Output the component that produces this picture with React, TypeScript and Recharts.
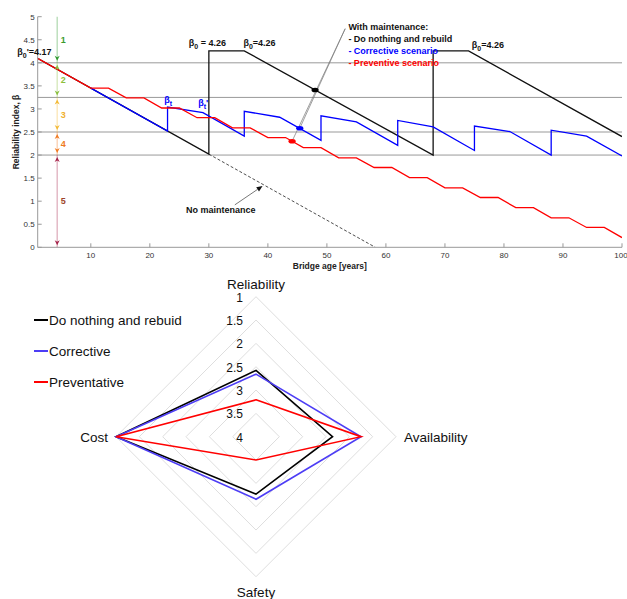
import {
  LineChart, Line, XAxis, YAxis, ReferenceLine, ReferenceDot,
  RadarChart, Radar, PolarGrid, PolarAngleAxis, PolarRadiusAxis, Legend,
} from 'recharts';

const FONT = '"Liberation Sans", Arial, Helvetica, sans-serif';

// --- reliability profiles: bridge age [years] vs reliability index β ---
const rebuildAge = [0, 30, 30, 36, 68, 68, 74, 100];
const rebuildBeta = [4.17, 2.02, 4.26, 4.26, 2.0, 4.26, 4.26, 2.4];

const noMaintAge = [30, 58.2];
const noMaintBeta = [2.02, 0];

const correctiveAge = [10, 23, 23, 29, 36, 36, 42, 49, 49, 55, 62, 62, 68, 75, 75, 81, 88, 88, 94, 100];
const correctiveBeta = [3.45, 2.52, 3.04, 2.92, 2.41, 2.95, 2.82, 2.32, 2.85, 2.72, 2.21, 2.75, 2.61, 2.1, 2.63, 2.51, 2.0, 2.54, 2.41, 1.98];

const preventiveAge = [0, 10, 13, 16, 19, 22, 25, 28, 31, 34, 37, 40, 43, 46, 49, 52, 55, 58, 61, 64, 67, 70, 73, 76, 79, 82, 85, 88, 91, 94, 97, 100];
const preventiveBeta = [4.17, 3.45, 3.45, 3.24, 3.24, 3.02, 3.02, 2.81, 2.81, 2.59, 2.59, 2.38, 2.38, 2.16, 2.16, 1.94, 1.94, 1.73, 1.73, 1.51, 1.51, 1.29, 1.29, 1.08, 1.08, 0.86, 0.86, 0.64, 0.64, 0.43, 0.43, 0.21];

const thresholds = [4, 3.25, 2.5, 2];

const ageTicks = [10, 20, 30, 40, 50, 60, 70, 80, 90, 100];
const betaTicks = [0, 0.5, 1, 1.5, 2, 2.5, 3, 3.5, 4, 4.5, 5];

// condition bands on the left
const bandNames = ['1', '2', '3', '4', '5'];
const bandTop = [5, 4, 3.25, 2.5, 2];
const bandBottom = [4, 3.25, 2.5, 2, 0];
const bandColors = ['#2f9a2f', '#8abf3f', '#f3b935', '#f07a22', '#a5234a'];
const bandTextColors = ['#3a9a2e', '#8dbf3c', '#f0b02e', '#ee7a22', '#9e4428'];

// --- radar: scenario scores per criterion (4 at centre, 1 at rim) ---
const criteria = ['Reliability', 'Availability', 'Safety', 'Cost'];
const scenarioNames = ['Do nothing and rebuid', 'Corrective', 'Preventative'];
const rebuildScore = [2.58, 2.36, 2.77, 1];
const correctiveScore = [2.66, 1.75, 2.66, 1];
const preventiveScore = [3.21, 1.75, 3.5, 1];
const scoreTicks = [4, 3.5, 3, 2.5, 2, 1.5, 1];

const toPoints = (ages: number[], betas: number[]) => ages.map((age, i) => ({ age, beta: betas[i] }));

// radius grows as the score falls from 4 (centre) to 1 (rim); half-point steps
const toRadius = (score: number) => (4 - score) * 2;

const radarData = criteria.map((axis, i) => ({
  axis,
  rebuild: toRadius(rebuildScore[i]),
  corrective: toRadius(correctiveScore[i]),
  preventive: toRadius(preventiveScore[i]),
}));

const arrowHead = (x: number, tip: number, dir: number, color: string) => (
  <polygon
    points={`${x},${tip} ${x - 2.5},${tip - dir * 5} ${x},${tip - dir * 3.5} ${x + 2.5},${tip - dir * 5}`}
    fill={color}
  />
);

const bandShape = (color: string, topHead: boolean) => (p: any) => {
  const { x1, y1, y2 } = p;
  return (
    <g>
      <line x1={x1} y1={y1} x2={x1} y2={y2} stroke={color} strokeOpacity={0.4} strokeWidth={1.2} />
      {topHead && arrowHead(x1, y1 + 2, -1, color)}
      {arrowHead(x1, y2 - 2, 1, color)}
    </g>
  );
};

const pointerShape = (p: any) => {
  const { x1, y1, x2, y2 } = p;
  const a = Math.atan2(y2 - y1, x2 - x1);
  const l = 6, w = 2.5;
  const bx = x2 - l * Math.cos(a), by = y2 - l * Math.sin(a);
  const px = -Math.sin(a) * w, py = Math.cos(a) * w;
  return (
    <g>
      <line x1={x1} y1={y1} x2={bx} y2={by} stroke="#555" strokeWidth={0.8} />
      <polygon points={`${x2},${y2} ${bx + px},${by + py} ${bx - px},${by - py}`} fill="#111" />
    </g>
  );
};

const textShape = (content: any, color = '#111', anchor = 'start') => (p: any) => (
  <text x={p.cx} y={p.cy} fontFamily={FONT} fontSize={9} fontWeight="bold" fill={color}
    textAnchor={anchor} dominantBaseline="central">
    {content}
  </text>
);

const betaText = (sub: string, rest: string) => (
  <>
    β<tspan dy={3} fontSize={7}>{sub}</tspan><tspan dy={-3}>{rest}</tspan>
  </>
);

const ellipseShape = (color: string) => (p: any) => (
  <ellipse cx={p.cx} cy={p.cy} rx={3.6} ry={2.3} fill={color} />
);

const AngleTick = (p: any) => {
  const i = p.index;
  const anchor = ['middle', 'start', 'middle', 'end'][i];
  const dy = [0, 5, 12, 5][i];
  return (
    <text x={p.x} y={p.y} dy={dy} textAnchor={anchor} fontFamily={FONT} fontSize={13.5} fill="#111">
      {p.payload.value}
    </text>
  );
};

const RadiusTick = (p: any) => (
  <text x={p.x - 13} y={p.y + 1} textAnchor="end" dominantBaseline="central" fontFamily={FONT} fontSize={12} fill="#111">
    {String(4 - p.payload.value / 2)}
  </text>
);

const LegendList = (props: any) => {
  const items = [...(props.payload || [])].sort(
    (a: any, b: any) => scenarioNames.indexOf(a.value) - scenarioNames.indexOf(b.value));
  return (
    <div style={{ fontFamily: FONT, fontSize: 13.5, color: '#111' }}>
      {items.map((e: any) => (
        <div key={e.value} style={{ display: 'flex', alignItems: 'center', height: 31 }}>
          <span style={{ display: 'inline-block', width: 14, height: 2, background: e.color, marginRight: 1 }} />
          <span>{e.value}</span>
        </div>
      ))}
    </div>
  );
};

const axisTick = { fontSize: 8, fill: '#333', fontFamily: FONT };

export default function App() {
  return (
    <div style={{ position: 'absolute', left: 0, top: 0, width: 627, height: 599, background: '#fff' }}>
      <div style={{ position: 'absolute', left: 0, top: 0 }}>
        <LineChart width={627} height={275} margin={{ top: 16.7, right: 5, bottom: 0, left: 0 }}>
          <XAxis dataKey="age" type="number" domain={[1, 100]} ticks={ageTicks} allowDataOverflow
            height={27.7} stroke="#999" tickSize={-4} tickMargin={9} tick={axisTick}
            label={{ value: 'Bridge age [years]', position: 'insideBottom', offset: 6, fontSize: 8.5, fontWeight: 'bold', fill: '#222', fontFamily: FONT }} />
          <XAxis xAxisId="top" orientation="top" dataKey="age" type="number" domain={[1, 100]} ticks={ageTicks}
            allowDataOverflow height={0} stroke="#999" tickSize={-4} tick={false} />
          <YAxis type="number" domain={[0, 5]} ticks={betaTicks} allowDataOverflow width={37.7}
            stroke="#999" tickSize={-4} tickMargin={7} tick={axisTick}
            label={{
              value: 'Reliability index, β',
              content: (p: any) => {
                const vb = p.viewBox || { x: 0, y: 16.7, height: 230.6 };
                const cx = vb.x + 16;
                const cy = vb.y + vb.height / 2;
                return (
                  <text x={cx} y={cy} transform={`rotate(-90 ${cx} ${cy})`} textAnchor="middle"
                    dominantBaseline="central" fontFamily={FONT} fontSize={8.5} fontWeight="bold" fill="#222">
                    Reliability index, β
                  </text>
                );
              },
            }} />
          <YAxis yAxisId="right" orientation="right" type="number" domain={[0, 5]} ticks={betaTicks}
            allowDataOverflow width={0} stroke="#999" tickSize={-4} tick={false} />

          {thresholds.map((t) => (
            <ReferenceLine key={t} y={t} stroke="#999" strokeWidth={1} />
          ))}

          <Line data={toPoints(noMaintAge, noMaintBeta)} dataKey="beta" type="linear" stroke="#222"
            strokeWidth={0.8} strokeDasharray="3 2" dot={false} isAnimationActive={false} />
          <Line data={toPoints(rebuildAge, rebuildBeta)} dataKey="beta" type="linear" stroke="#111"
            strokeWidth={1.3} dot={false} isAnimationActive={false} />
          <Line data={toPoints(correctiveAge, correctiveBeta)} dataKey="beta" type="linear" stroke="#0000ff"
            strokeWidth={1.3} dot={false} isAnimationActive={false} />
          <Line data={toPoints(preventiveAge, preventiveBeta)} dataKey="beta" type="linear" stroke="#ff0000"
            strokeWidth={1.3} dot={false} isAnimationActive={false} />

          {bandNames.map((n, i) => (
            <ReferenceLine key={`band-${n}`} ifOverflow="visible"
              segment={[{ x: 4.3, y: bandTop[i] }, { x: 4.3, y: bandBottom[i] }]}
              shape={bandShape(bandColors[i], i > 0)} />
          ))}
          {bandNames.map((n, i) => (
            <ReferenceDot key={`band-label-${n}`} x={4.9} y={(bandTop[i] + bandBottom[i]) / 2} r={0}
              ifOverflow="visible" shape={textShape(n, bandTextColors[i])} />
          ))}

          <ReferenceLine ifOverflow="visible" segment={[{ x: 44.1, y: 2.3 }, { x: 53.1, y: 4.74 }]}
            stroke="#777" strokeWidth={0.7} />
          <ReferenceLine ifOverflow="visible" segment={[{ x: 45.4, y: 2.58 }, { x: 53.1, y: 4.74 }]}
            stroke="#777" strokeWidth={0.7} />
          <ReferenceLine ifOverflow="visible" segment={[{ x: 34.4, y: 0.92 }, { x: 39.1, y: 1.33 }]}
            shape={pointerShape} />

          <ReferenceDot x={48} y={3.41} r={3} ifOverflow="visible" shape={ellipseShape('#000')} />
          <ReferenceDot x={45.4} y={2.58} r={3} ifOverflow="visible" shape={ellipseShape('#0000ff')} />
          <ReferenceDot x={44.1} y={2.3} r={3} ifOverflow="visible" shape={ellipseShape('#ff0000')} />

          <ReferenceDot x={-2.46} y={4.24} r={0} ifOverflow="visible" shape={textShape(betaText('0', "'=4.17"))} />
          <ReferenceDot x={26.6} y={4.44} r={0} ifOverflow="visible" shape={textShape(betaText('0', ' = 4.26'))} />
          <ReferenceDot x={35.85} y={4.44} r={0} ifOverflow="visible" shape={textShape(betaText('0', '=4.26'))} />
          <ReferenceDot x={74.56} y={4.39} r={0} ifOverflow="visible" shape={textShape(betaText('0', '=4.26'))} />
          <ReferenceDot x={22.46} y={3.19} r={0} ifOverflow="visible" shape={textShape(betaText('t', ''), '#0000ff')} />
          <ReferenceDot x={28.2} y={3.13} r={0} ifOverflow="visible" shape={textShape(betaText('t', "'"), '#0000ff')} />

          <ReferenceDot x={53.64} y={4.78} r={0} ifOverflow="visible" shape={textShape('With maintenance:')} />
          <ReferenceDot x={53.64} y={4.52} r={0} ifOverflow="visible" shape={textShape('- Do nothing and rebuild')} />
          <ReferenceDot x={53.64} y={4.26} r={0} ifOverflow="visible" shape={textShape('- Corrective scenario', '#0000ff')} />
          <ReferenceDot x={53.64} y={4.0} r={0} ifOverflow="visible" shape={textShape('- Preventive scenario', '#ff0000')} />
          <ReferenceDot x={26.14} y={0.81} r={0} ifOverflow="visible" shape={textShape('No maintenance')} />
        </LineChart>
      </div>

      <div style={{ position: 'absolute', left: 0, top: 270 }}>
        <RadarChart width={627} height={329} data={radarData} cx={256} cy={166.7} outerRadius={140}
          margin={{ top: 0, right: 0, bottom: 0, left: 0 }}>
          <PolarGrid gridType="polygon" radialLines={false} stroke="#dedede" />
          <PolarAngleAxis dataKey="axis" tick={AngleTick} axisLine={false} tickLine={false} />
          <PolarRadiusAxis angle={90} type="number" domain={[0, toRadius(1)]} tickCount={scoreTicks.length}
            axisLine={false} tickLine={false} tick={RadiusTick} />
          <Radar name={scenarioNames[0]} dataKey="rebuild" stroke="#000" fill="none" fillOpacity={0}
            strokeWidth={1.6} isAnimationActive={false} />
          <Radar name={scenarioNames[1]} dataKey="corrective" stroke="#4d3df5" fill="none" fillOpacity={0}
            strokeWidth={1.6} isAnimationActive={false} />
          <Radar name={scenarioNames[2]} dataKey="preventive" stroke="#ff0000" fill="none" fillOpacity={0}
            strokeWidth={1.6} isAnimationActive={false} />
          <Legend layout="vertical" align="left" verticalAlign="top" content={LegendList}
            wrapperStyle={{ left: 34, top: 34.5, width: 220 }} />
        </RadarChart>
      </div>
    </div>
  );
}
